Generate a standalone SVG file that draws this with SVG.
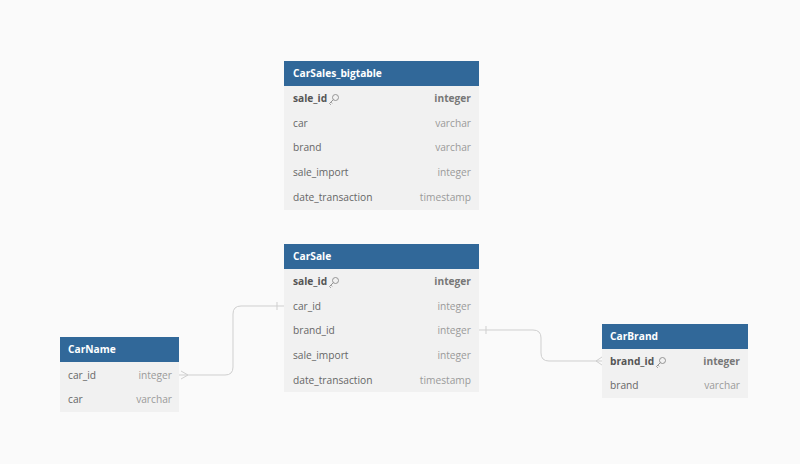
<svg xmlns="http://www.w3.org/2000/svg" width="800" height="464" viewBox="0 0 800 464">
<defs>
<style>
.bg{fill:#fafafa}
.body{fill:#f1f1f1}
.hdr{fill:#316899}
.title{font-family:"Open Sans","Noto Sans",sans-serif;font-size:10.2px;font-weight:bold;fill:#ffffff}
.col{font-family:"Open Sans","Noto Sans",sans-serif;font-size:10.2px;fill:#666666}
.pk{font-weight:bold;fill:#555555}
.typ{font-family:"Open Sans","Noto Sans",sans-serif;font-size:10.2px;fill:#9a9a9a;text-anchor:end}
.typpk{font-weight:bold;fill:#777777}
.conn{fill:none;stroke:#cfcfcf;stroke-width:1}
.key{fill:none;stroke:#8a8a8a;stroke-width:0.9}
</style>
<g id="keyicon">
<circle cx="5.5" cy="-3.5" r="3" class="key"/>
<path d="M3.4,-1.4 L-0.5,2.5 L0.8,3.8 M0.9,1.1 L2.2,2.4" class="key"/>
</g>
</defs>
<rect class="bg" x="0" y="0" width="800" height="464"/>

<g id="connectors">
<path class="conn" d="M179,375 H225 Q233,375 233,367 V314 Q233,306 241,306 H284"/>
<path class="conn" d="M181,371 L188,375 L181,379"/>
<path class="conn" d="M277,302 V310"/>
<path class="conn" d="M479,330 H533 Q541,330 541,338 V353 Q541,361 549,361 H602"/>
<path class="conn" d="M486,326 V334"/>
<path class="conn" d="M602,357 L596,361 L602,365"/>
</g>

<g id="CarSales_bigtable">
<rect class="body" x="284" y="61" width="195" height="149"/>
<rect class="hdr" x="284" y="61" width="195" height="25"/>
<text class="title" x="293" y="77">CarSales_bigtable</text>
<text class="col pk" x="293" y="102">sale_id</text>
<use href="#keyicon" x="330" y="101"/>
<text class="typ typpk" x="471" y="102">integer</text>
<text class="col" x="293" y="126.5">car</text>
<text class="typ" x="471" y="126.5">varchar</text>
<text class="col" x="293" y="151">brand</text>
<text class="typ" x="471" y="151">varchar</text>
<text class="col" x="293" y="176">sale_import</text>
<text class="typ" x="471" y="176">integer</text>
<text class="col" x="293" y="200.5">date_transaction</text>
<text class="typ" x="471" y="200.5">timestamp</text>
</g>

<g id="CarSale">
<rect class="body" x="284" y="244" width="195" height="148"/>
<rect class="hdr" x="284" y="244" width="195" height="25"/>
<text class="title" x="293" y="260">CarSale</text>
<text class="col pk" x="293" y="285">sale_id</text>
<use href="#keyicon" x="330" y="284"/>
<text class="typ typpk" x="471" y="285">integer</text>
<text class="col" x="293" y="310">car_id</text>
<text class="typ" x="471" y="310">integer</text>
<text class="col" x="293" y="334">brand_id</text>
<text class="typ" x="471" y="334">integer</text>
<text class="col" x="293" y="359">sale_import</text>
<text class="typ" x="471" y="359">integer</text>
<text class="col" x="293" y="384">date_transaction</text>
<text class="typ" x="471" y="384">timestamp</text>
</g>

<g id="CarName">
<rect class="body" x="60" y="337" width="119" height="75"/>
<rect class="hdr" x="60" y="337" width="119" height="25"/>
<text class="title" x="68" y="353">CarName</text>
<text class="col" x="68" y="378.5">car_id</text>
<text class="typ" x="172" y="378.5">integer</text>
<text class="col" x="68" y="403">car</text>
<text class="typ" x="172" y="403">varchar</text>
</g>

<g id="CarBrand">
<rect class="body" x="602" y="324" width="146" height="74"/>
<rect class="hdr" x="602" y="324" width="146" height="25"/>
<text class="title" x="610" y="340">CarBrand</text>
<text class="col pk" x="610" y="365">brand_id</text>
<use href="#keyicon" x="657" y="364"/>
<text class="typ typpk" x="740" y="365">integer</text>
<text class="col" x="610" y="389">brand</text>
<text class="typ" x="740" y="389">varchar</text>
</g>
</svg>
